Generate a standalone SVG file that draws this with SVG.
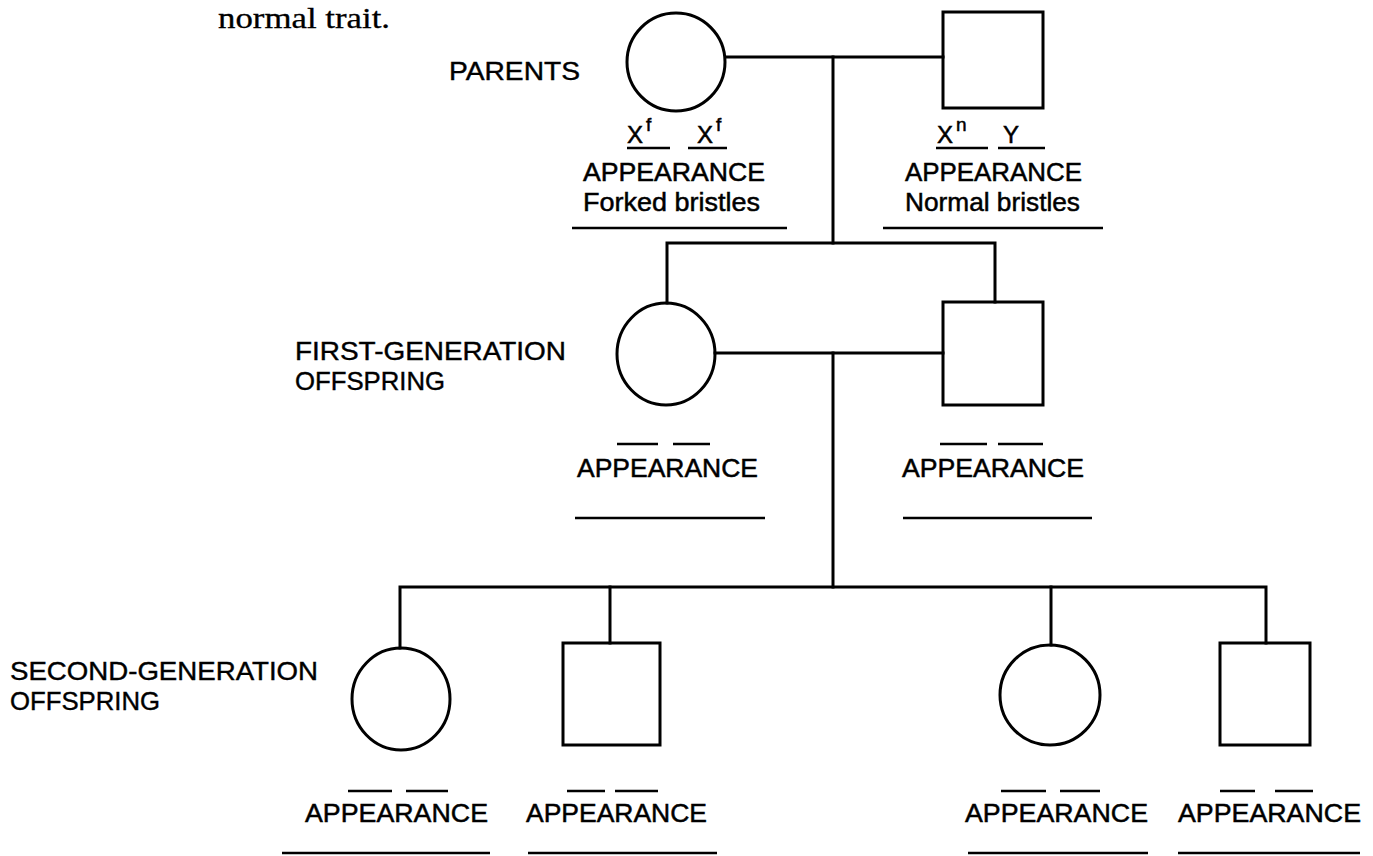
<svg xmlns="http://www.w3.org/2000/svg" width="1373" height="856" viewBox="0 0 1373 856">
<style>
.sh{fill:none;stroke:#000;stroke-width:3}
.ln{fill:none;stroke:#000;stroke-width:3;stroke-linecap:square}
.bl{fill:none;stroke:#000;stroke-width:2.5}
.t{font-family:"Liberation Sans",Arial,sans-serif;font-size:26px;fill:#000;stroke:#000;stroke-width:0.5}
.lb{font-family:"Liberation Sans",Arial,sans-serif;font-size:25px;fill:#000;stroke:#000;stroke-width:0.4}
.g{font-family:"Liberation Sans",Arial,sans-serif;font-size:24px;fill:#000;stroke:#000;stroke-width:0.5}
.sup{font-size:19px}
.serif{font-family:"Liberation Serif","Times New Roman",serif;font-size:29px;fill:#000;stroke:#000;stroke-width:0.3}
</style>
<rect width="1373" height="856" fill="#fff"/>
<text class="serif" x="218" y="28" textLength="172" lengthAdjust="spacingAndGlyphs">normal trait.</text>
<text class="lb" x="449" y="80" textLength="131" lengthAdjust="spacingAndGlyphs">PARENTS</text>
<text class="lb" x="295" y="360" textLength="271" lengthAdjust="spacingAndGlyphs">FIRST-GENERATION</text>
<text class="lb" x="295" y="390" textLength="150" lengthAdjust="spacingAndGlyphs">OFFSPRING</text>
<text class="lb" x="10" y="680" textLength="308" lengthAdjust="spacingAndGlyphs">SECOND-GENERATION</text>
<text class="lb" x="10" y="710" textLength="150" lengthAdjust="spacingAndGlyphs">OFFSPRING</text>

<g id="connectors">
<line class="ln" x1="726" y1="57" x2="943" y2="57"/>
<line class="ln" x1="833" y1="57" x2="833" y2="243"/>
<polyline class="ln" points="667,303 667,243 995,243 995,302"/>
<line class="ln" x1="715" y1="353" x2="943" y2="353"/>
<line class="ln" x1="833" y1="353" x2="833" y2="587"/>
<polyline class="ln" points="400,648 400,587 1266,587 1266,643"/>
<line class="ln" x1="610" y1="587" x2="610" y2="643"/>
<line class="ln" x1="1051" y1="587" x2="1051" y2="645"/>
</g>

<g id="parent-female">
<ellipse class="sh" cx="676" cy="62" rx="49" ry="49"/>
<text class="g" x="627" y="143">X<tspan class="sup" dx="3" dy="-12">f</tspan></text>
<text class="g" x="697" y="143">X<tspan class="sup" dx="3" dy="-12">f</tspan></text>
<line class="bl" x1="627" y1="148" x2="670" y2="148"/>
<line class="bl" x1="688" y1="148" x2="727" y2="148"/>
<text class="t" x="583" y="181" textLength="182" lengthAdjust="spacingAndGlyphs">APPEARANCE</text>
<text class="t" x="583" y="211" textLength="177" lengthAdjust="spacingAndGlyphs">Forked bristles</text>
<line class="bl" x1="572" y1="228" x2="787" y2="228"/>
</g>

<g id="parent-male">
<rect class="sh" x="943" y="12" width="100" height="96"/>
<text class="g" x="937" y="143">X<tspan class="sup" dx="3" dy="-12">n</tspan></text>
<text class="g" x="1003" y="143">Y</text>
<line class="bl" x1="936" y1="148" x2="988" y2="148"/>
<line class="bl" x1="998" y1="148" x2="1045" y2="148"/>
<text class="t" x="905" y="181" textLength="177" lengthAdjust="spacingAndGlyphs">APPEARANCE</text>
<text class="t" x="905" y="211" textLength="175" lengthAdjust="spacingAndGlyphs">Normal bristles</text>
<line class="bl" x1="883" y1="228" x2="1103" y2="228"/>
</g>

<g id="f1-female">
<ellipse class="sh" cx="666" cy="354" rx="49" ry="51"/>
<line class="bl" x1="617" y1="444" x2="658" y2="444"/>
<line class="bl" x1="673" y1="444" x2="710" y2="444"/>
<text class="t" x="577" y="477" textLength="181" lengthAdjust="spacingAndGlyphs">APPEARANCE</text>
<line class="bl" x1="575" y1="518" x2="765" y2="518"/>
</g>

<g id="f1-male">
<rect class="sh" x="943" y="302" width="100" height="103"/>
<line class="bl" x1="940" y1="444" x2="987" y2="444"/>
<line class="bl" x1="998" y1="444" x2="1043" y2="444"/>
<text class="t" x="902" y="477" textLength="182" lengthAdjust="spacingAndGlyphs">APPEARANCE</text>
<line class="bl" x1="903" y1="518" x2="1092" y2="518"/>
</g>

<g id="f2-female-1">
<ellipse class="sh" cx="401" cy="699" rx="49" ry="51"/>
<line class="bl" x1="348" y1="791" x2="392" y2="791"/>
<line class="bl" x1="406" y1="791" x2="448" y2="791"/>
<text class="t" x="305" y="822" textLength="183" lengthAdjust="spacingAndGlyphs">APPEARANCE</text>
<line class="bl" x1="282" y1="853" x2="490" y2="853"/>
</g>

<g id="f2-male-1">
<rect class="sh" x="563" y="643" width="97" height="102"/>
<line class="bl" x1="567" y1="791" x2="605" y2="791"/>
<line class="bl" x1="615" y1="791" x2="658" y2="791"/>
<text class="t" x="526" y="822" textLength="181" lengthAdjust="spacingAndGlyphs">APPEARANCE</text>
<line class="bl" x1="528" y1="853" x2="717" y2="853"/>
</g>

<g id="f2-female-2">
<ellipse class="sh" cx="1050" cy="695" rx="50" ry="50"/>
<line class="bl" x1="1001" y1="791" x2="1046" y2="791"/>
<line class="bl" x1="1060" y1="791" x2="1100" y2="791"/>
<text class="t" x="965" y="822" textLength="183" lengthAdjust="spacingAndGlyphs">APPEARANCE</text>
<line class="bl" x1="968" y1="853" x2="1148" y2="853"/>
</g>

<g id="f2-male-2">
<rect class="sh" x="1220" y="643" width="90" height="102"/>
<line class="bl" x1="1220" y1="791" x2="1255" y2="791"/>
<line class="bl" x1="1275" y1="791" x2="1313" y2="791"/>
<text class="t" x="1178" y="822" textLength="183" lengthAdjust="spacingAndGlyphs">APPEARANCE</text>
<line class="bl" x1="1178" y1="853" x2="1360" y2="853"/>
</g>
</svg>
